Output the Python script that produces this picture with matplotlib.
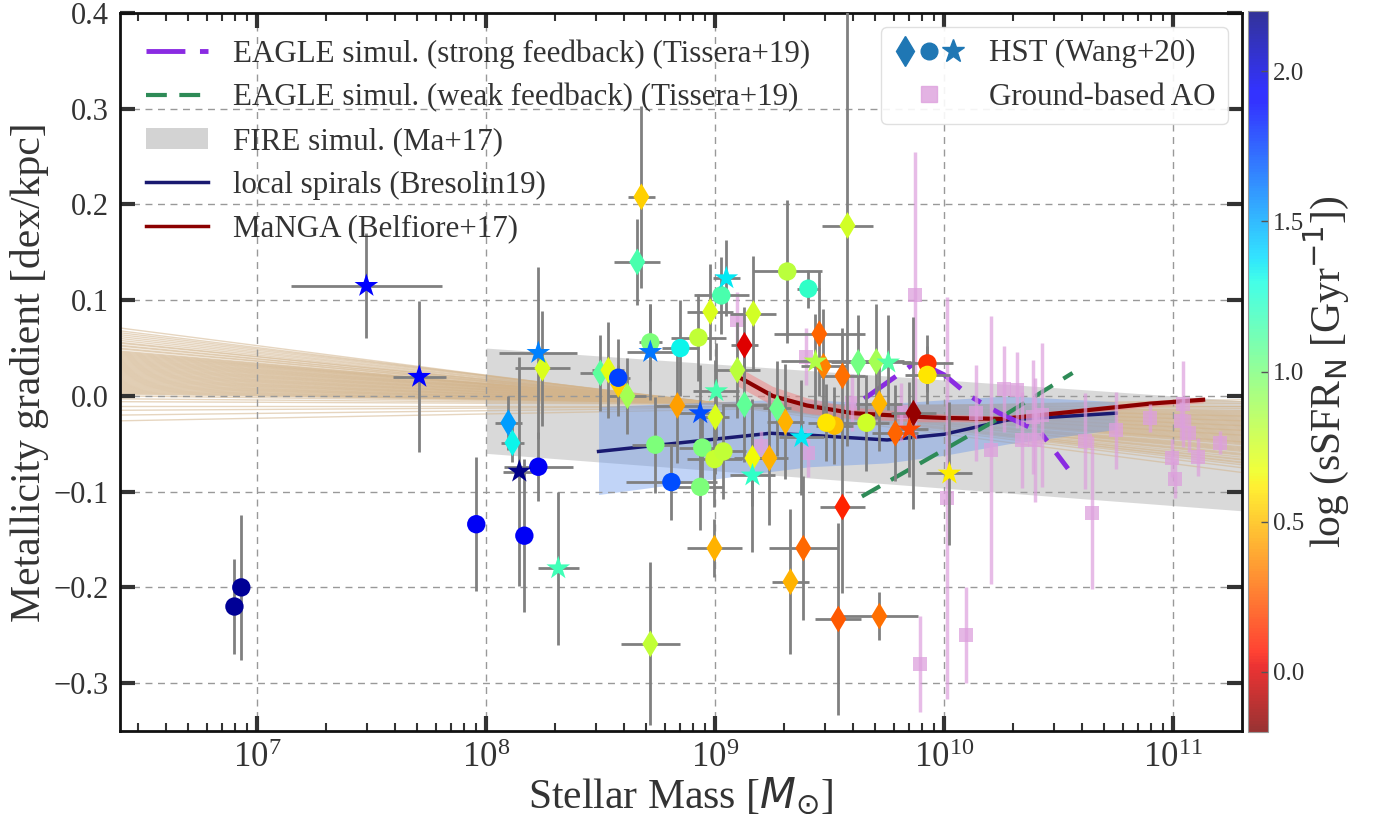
import numpy as np
import matplotlib
matplotlib.use('Agg')
import matplotlib.pyplot as plt
from matplotlib.lines import Line2D
from matplotlib.patches import Patch
from matplotlib.legend_handler import HandlerTuple
from matplotlib.colors import Normalize
from matplotlib.cm import ScalarMappable
import matplotlib.ticker as mticker

# ---------------- data ----------------
# HST circles: logM, gradient, x-error (dex), y-error, log sSFR
circ_logm = [6.90, 6.93, 7.956, 8.166, 8.227, 8.576, 8.716, 8.738, 8.808, 8.847, 8.926, 8.934,
             8.943, 8.996, 9.026, 9.035, 9.314, 9.406, 9.52, 9.485, 9.66, 9.926, 9.926]
circ_grad = [-0.220, -0.200, -0.134, -0.146, -0.074, 0.019, 0.056, -0.051, -0.090, 0.050, 0.061, -0.095,
             -0.054, -0.066, 0.105, -0.058, 0.130, 0.112, -0.031, -0.028, -0.028, 0.034, 0.022]
circ_xerr = [0.0, 0.0, 0.0, 0.0, 0.15, 0.05, 0.05, 0.10, 0.20, 0.08, 0.12, 0.10,
             0.10, 0.12, 0.12, 0.10, 0.15, 0.05, 0.08, 0.08, 0.10, 0.11, 0.10]
circ_yerr = [0.050, 0.076, 0.070, 0.080, 0.036, 0.040, 0.040, 0.050, 0.040, 0.050, 0.045, 0.045,
             0.040, 0.050, 0.040, 0.050, 0.075, 0.020, 0.040, 0.040, 0.050, 0.030, 0.030]
circ_ssfr = [2.15, 2.15, 1.95, 1.95, 1.95, 1.75, 1.00, 1.00, 1.72, 1.32, 0.80, 1.00,
             1.00, 0.78, 1.15, 0.80, 0.82, 1.22, 0.50, 0.60, 0.76, 0.14, 0.60]

# HST diamonds
diam_logm = [8.096, 8.114, 8.245, 8.498, 8.533, 8.576, 8.616, 8.659, 8.677, 8.716, 8.834, 8.978,
             8.996, 9.000, 9.096, 9.127, 9.127, 9.162, 9.166, 9.236, 9.270, 9.306, 9.328, 9.384,
             9.454, 9.472, 9.537, 9.555, 9.555, 9.577, 9.624, 9.703, 9.716, 9.716, 9.786, 9.865]
diam_grad = [-0.028, -0.049, 0.029, 0.024, 0.027, 0.012, 0.000, 0.140, 0.208, -0.259, -0.010, 0.088,
             -0.159, -0.022, 0.027, 0.053, -0.009, -0.065, 0.086, -0.065, -0.013, -0.027, -0.194, -0.159,
             0.065, 0.031, -0.233, 0.021, -0.116, 0.178, 0.035, 0.036, -0.008, -0.230, -0.039, -0.018]
diam_xerr = [0.06, 0.05, 0.12, 0.09, 0.07, 0.03, 0.08, 0.10, 0.06, 0.13, 0.10, 0.10,
             0.12, 0.06, 0.10, 0.06, 0.10, 0.08, 0.10, 0.08, 0.06, 0.08, 0.08, 0.15,
             0.20, 0.10, 0.10, 0.10, 0.10, 0.11, 0.12, 0.12, 0.10, 0.17, 0.10, 0.10]
diam_yerr = [0.028, 0.020, 0.060, 0.040, 0.050, 0.020, 0.040, 0.045, 0.095, 0.085, 0.060, 0.050,
             0.030, 0.060, 0.050, 0.040, 0.060, 0.050, 0.060, 0.070, 0.050, 0.060, 0.076, 0.075,
             0.065, 0.060, 0.100, 0.050, 0.090, 0.230, 0.050, 0.060, 0.050, 0.025, 0.050, 0.100]
diam_ssfr = [1.53, 1.32, 0.72, 1.10, 0.70, 0.55, 0.88, 1.15, 0.55, 0.80, 0.42, 0.72,
             0.47, 0.72, 0.82, 0.00, 1.08, 0.66, 0.75, 0.47, 1.05, 0.47, 0.47, 0.28,
             0.27, 0.35, 0.25, 0.30, 0.10, 0.75, 1.02, 0.88, 0.48, 0.30, 0.27, -0.15]

# HST stars
star_logm = [7.476, 7.707, 8.144, 8.227, 8.314, 8.716, 8.934, 9.004, 9.048, 9.162, 9.376, 9.437,
             9.755, 9.847, 10.022]
star_grad = [0.115, 0.020, -0.079, 0.045, -0.180, 0.046, -0.018, 0.005, 0.123, -0.083, -0.043, 0.036,
             0.035, -0.035, -0.081]
star_xerr = [0.33, 0.115, 0.07, 0.17, 0.09, 0.10, 0.10, 0.10, 0.06, 0.10, 0.10, 0.15,
             0.10, 0.08, 0.10]
star_yerr = [0.055, 0.079, 0.120, 0.090, 0.080, 0.050, 0.050, 0.050, 0.040, 0.080, 0.060, 0.050,
             0.050, 0.050, 0.075]
star_ssfr = [1.90, 1.90, 2.18, 1.60, 1.17, 1.62, 1.72, 1.15, 1.35, 1.22, 1.35, 0.85,
             1.12, 0.20, 0.62]

# Ground-based AO
ao_logm = [9.096, 9.200, 9.397, 9.406, 9.598, 9.812, 9.873, 9.895, 10.013, 10.096, 10.140, 10.205,
           10.262, 10.319, 10.340, 10.385, 10.397, 10.428, 10.616, 10.646, 10.751, 10.900, 10.996,
           11.009, 11.035, 11.040, 11.070, 11.109, 11.205]
ao_grad = [0.079, -0.052, 0.041, -0.060, -0.007, -0.017, 0.105, -0.280, -0.107, -0.250, -0.018, -0.056,
           0.007, 0.006, -0.046, -0.022, -0.046, -0.020, -0.047, -0.122, -0.036, -0.023, -0.065,
           -0.087, -0.026, -0.008, -0.039, -0.064, -0.049]
ao_yerr = [0.030, 0.015, 0.030, 0.025, 0.030, 0.030, 0.150, 0.050, 0.210, 0.050, 0.050, 0.140,
           0.045, 0.040, 0.050, 0.060, 0.065, 0.075, 0.050, 0.080, 0.040, 0.015, 0.020,
           0.020, 0.020, 0.045, 0.020, 0.020, 0.012]

# FIRE simulation band (Ma+17)
fire_logm = [8.0, 11.3]
fire_hi = [0.050, -0.005]
fire_lo = [-0.060, -0.120]

# local spirals (Bresolin19)
bres_logm = [8.49, 9.24, 9.41, 9.75, 10.0, 10.28, 10.75]
bres_grad = [-0.058, -0.039, -0.041, -0.046, -0.040, -0.025, -0.018]
bres_hi = [-0.011, -0.004, -0.004, -0.008, -0.004, 0.000, -0.006]
bres_lo = [-0.103, -0.079, -0.074, -0.070, -0.062, -0.050, -0.035]

# MaNGA (Belfiore+17)
manga_logm = [9.10, 9.25, 9.40, 9.60, 9.90, 10.00, 10.25, 10.50, 10.90, 11.13]
manga_grad = [0.020, 0.000, -0.010, -0.018, -0.022, -0.023, -0.024, -0.018, -0.008, -0.004]
manga_err = [0.010, 0.010, 0.008, 0.006, 0.005, 0.004, 0.003, 0.003, 0.003, 0.003]

# EAGLE
eagle_s_logm = [9.65, 9.88, 10.00, 10.11, 10.24, 10.42, 10.54]
eagle_s_grad = [-0.003, 0.036, 0.022, 0.000, -0.018, -0.038, -0.076]
eagle_w_logm = [9.64, 10.25, 10.56]
eagle_w_grad = [-0.105, -0.022, 0.024]

# individual fits (tan lines): gradient at logM=6.4 and at logM=11.3
tan_left = [0.071, 0.068, 0.066, 0.064, 0.062, 0.060, 0.058, 0.056, 0.055, 0.053, 0.052, 0.050,
            0.049, 0.047, 0.046, 0.045, 0.044, 0.043, 0.042, 0.041, 0.040, 0.039, 0.038, 0.037,
            0.036, 0.035, 0.034, 0.033, 0.032, 0.031, 0.030, 0.029, 0.028, 0.027, 0.026, 0.025,
            0.024, 0.023, 0.022, 0.021, 0.020, 0.019, 0.018, 0.017, 0.016, 0.015, 0.014, 0.013,
            0.012, 0.011, 0.010, 0.009, 0.008, 0.007, 0.006, 0.005, 0.004, 0.003, 0.002, 0.000,
            -0.003, -0.006, -0.010, -0.015, -0.020, -0.026]
tan_right = [-0.080, -0.075, -0.072, -0.070, -0.069, -0.067, -0.066, -0.064, -0.062, -0.061, -0.060,
             -0.058, -0.057, -0.056, -0.055, -0.054, -0.053, -0.051, -0.050, -0.049, -0.048, -0.048,
             -0.047, -0.046, -0.045, -0.044, -0.043, -0.042, -0.041, -0.041, -0.040, -0.039, -0.038,
             -0.037, -0.036, -0.036, -0.035, -0.034, -0.033, -0.032, -0.031, -0.031, -0.030, -0.029,
             -0.028, -0.027, -0.026, -0.026, -0.025, -0.024, -0.023, -0.022, -0.021, -0.021, -0.020,
             -0.019, -0.018, -0.017, -0.016, -0.015, -0.013, -0.011, -0.010, -0.008, -0.006, -0.004]
tan_logm = [6.4, 11.3]

yticks = [-0.3, -0.2, -0.1, 0.0, 0.1, 0.2, 0.3, 0.4]
cbar_ticks = [0.0, 0.5, 1.0, 1.5, 2.0]

# ---------------- style ----------------
TXT = '#333333'
plt.rcParams['font.family'] = ['Liberation Serif', 'DejaVu Sans']
plt.rcParams['text.color'] = TXT
plt.rcParams['axes.labelcolor'] = TXT
plt.rcParams['xtick.color'] = TXT
plt.rcParams['ytick.color'] = TXT

fig = plt.figure(figsize=(13.77, 8.14), dpi=100)
ax = fig.add_axes([0.0871, 0.102, 0.8149, 0.882])
cax = fig.add_axes([0.9063, 0.1007, 0.0145, 0.8858])

norm = Normalize(vmin=-0.2, vmax=2.2)
cmap = plt.get_cmap('jet_r')

# FIRE band
ax.fill_between(10 ** np.array(fire_logm), fire_lo, fire_hi, color='lightgray', alpha=0.85,
                lw=0, zorder=1)

# tan lines
for yl, yr in zip(tan_left, tan_right):
    ax.plot(10 ** np.array(tan_logm), [yl, yr], color='tan', alpha=0.55, lw=1.0, zorder=1.2)

# Bresolin band + line
bx = 10 ** np.array(bres_logm)
ax.fill_between(bx, bres_lo, bres_hi, color='cornflowerblue', alpha=0.4, lw=0, zorder=1.4)
ax.plot(bx, bres_grad, color='#191970', lw=2.5, zorder=2.5)

# MaNGA
mx = 10 ** np.array(manga_logm)
mg = np.array(manga_grad)
me = np.array(manga_err)
ax.fill_between(mx, mg - me, mg + me, color='lightcoral', alpha=0.5, lw=0, zorder=2.4)
ax.plot(mx, mg, color='#8b0000', lw=3, zorder=2.5)

# EAGLE
ax.plot(10 ** np.array(eagle_s_logm), eagle_s_grad, color='blueviolet', lw=3.5,
        dashes=(8, 3, 2, 3), zorder=2.6)
ax.plot(10 ** np.array(eagle_w_logm), eagle_w_grad, color='seagreen', lw=3,
        dashes=(5, 3), zorder=2.6)

# AO points
ao_x = 10 ** np.array(ao_logm)
ax.errorbar(ao_x, ao_grad, yerr=ao_yerr, fmt='none', ecolor='plum', elinewidth=2.5, alpha=0.7,
            zorder=2.7)
ax.scatter(ao_x, ao_grad, marker='s', s=110, color='plum', alpha=0.75, lw=0, zorder=2.8)


def hst(logm, grad, xerr_dex, yerr, ssfr, marker, size):
    logm = np.array(logm)
    xd = np.array(xerr_dex)
    x = 10 ** logm
    xlo = x - 10 ** (logm - xd)
    xhi = 10 ** (logm + xd) - x
    ax.errorbar(x, grad, xerr=[xlo, xhi], yerr=yerr, fmt='none', ecolor='gray',
                elinewidth=2.0, zorder=3)
    ax.scatter(x, grad, c=ssfr, cmap=cmap, norm=norm, marker=marker, s=size, lw=0, zorder=4)


hst(diam_logm, diam_grad, diam_xerr, diam_yerr, diam_ssfr, 'd', 185)
hst(circ_logm, circ_grad, circ_xerr, circ_yerr, circ_ssfr, 'o', 175)
hst(star_logm, star_grad, star_xerr, star_yerr, star_ssfr, '*', 320)

# axes formatting
ax.set_xscale('log')
ax.set_xlim(10 ** 6.4, 10 ** 11.3)
ax.set_ylim(-0.35, 0.4)
ax.set_yticks(yticks)
ax.yaxis.set_major_formatter(mticker.FuncFormatter(
    lambda v, p: ('%.1f' % v).replace('-', '\u2212')))
ax.yaxis.set_minor_locator(mticker.NullLocator())
ax.xaxis.set_major_locator(mticker.LogLocator(base=10, numticks=10))
ax.xaxis.set_minor_locator(mticker.LogLocator(base=10, subs=np.arange(2, 10), numticks=20))
ax.tick_params(which='major', direction='in', length=11, width=3, top=True, right=True,
               color='#333333', pad=8)
ax.tick_params(which='minor', direction='in', length=6, width=1.5, top=True, right=True,
               color='#333333')
ax.tick_params(axis='x', which='major', labelsize=25)
ax.tick_params(axis='y', which='major', labelsize=22)
ax.grid(True, which='major', ls=(0, (5, 4)), color='#999999', lw=1)
for sp in ax.spines.values():
    sp.set_color('#111111')
    sp.set_linewidth(2)

ax.set_xlabel(r'Stellar Mass [$M_{\odot}$]', fontsize=30, labelpad=0)
ax.set_ylabel('Metallicity gradient [dex/kpc]', fontsize=30, labelpad=3)

# legends
h1 = [Line2D([], [], color='blueviolet', lw=3.5, dashes=(8, 3, 2, 3)),
      Line2D([], [], color='seagreen', lw=3, dashes=(5, 3)),
      Patch(facecolor='lightgray', edgecolor='none'),
      Line2D([], [], color='#191970', lw=2.5),
      Line2D([], [], color='#8b0000', lw=2.5)]
l1 = ['EAGLE simul. (strong feedback) (Tissera+19)',
      'EAGLE simul. (weak feedback) (Tissera+19)',
      'FIRE simul. (Ma+17)',
      'local spirals (Bresolin19)',
      'MaNGA (Belfiore+17)']
leg1 = ax.legend(h1, l1, loc='upper left', fontsize=22.3, frameon=False, handlelength=2.0,
                 handletextpad=0.8, labelspacing=0.47, borderaxespad=0.45)
for t in leg1.get_texts():
    t.set_color(TXT)
leg1.set_zorder(10)
ax.add_artist(leg1)

hst_handle = (Line2D([], [], marker='d', ls='none', color='tab:blue', ms=15),
              Line2D([], [], marker='o', ls='none', color='tab:blue', ms=12),
              Line2D([], [], marker='*', ls='none', color='tab:blue', ms=17))
ao_handle = Line2D([], [], marker='s', ls='none', color='plum', alpha=0.8, ms=11)
leg2 = ax.legend([hst_handle, ao_handle], ['HST (Wang+20)', 'Ground-based AO'],
                 handler_map={tuple: HandlerTuple(ndivide=None, pad=0)},
                 loc='upper right', fontsize=22.3, frameon=True, fancybox=True,
                 edgecolor='#dddddd', framealpha=0.9, handlelength=2.3, handletextpad=0.8,
                 labelspacing=0.47, borderaxespad=0.45)
for t in leg2.get_texts():
    t.set_color(TXT)
leg2.set_zorder(10)

# colorbar
sm = ScalarMappable(norm=norm, cmap=cmap)
cb = fig.colorbar(sm, cax=cax)
cb.solids.set_alpha(0.8)
cb.set_ticks(cbar_ticks)
cb.set_ticklabels(['%.1f' % t for t in cbar_ticks])
cb.ax.tick_params(labelsize=18, direction='in', length=5, width=1, color='#555555')
cb.outline.set_edgecolor('#999999')
cb.set_label(r'log (sSFR$_{\rm N}$ [Gyr$^{-1}$])', fontsize=30, labelpad=-2)

fig.savefig('out.png', dpi=100)
